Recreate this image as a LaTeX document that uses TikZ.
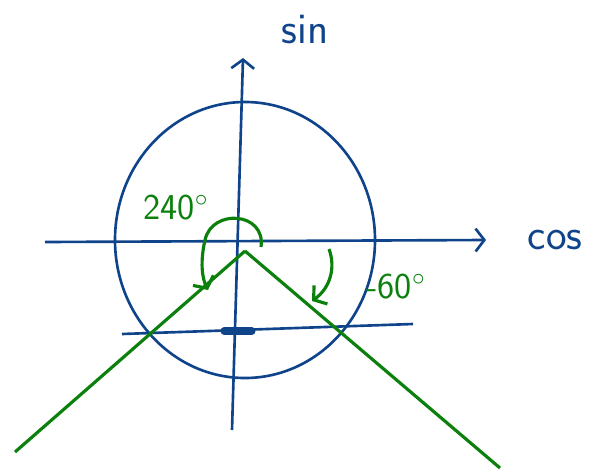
\documentclass[tikz,border=0pt]{standalone}
\usetikzlibrary{arrows.meta,positioning}
\usepackage{xcolor}
\definecolor{InkBlue}{RGB}{16,68,138}
\definecolor{InkGreen}{RGB}{12,128,12}

\begin{document}
\begin{tikzpicture}[
    x=0.02cm, y=-0.02cm,
    axis/.style={draw=InkBlue, line width=1.5pt, -{Straight Barb[length=5pt, width=13pt]}},
    blueline/.style={draw=InkBlue, line width=1.5pt},
    ray/.style={draw=InkGreen, line width=1.8pt},
    turn/.style={draw=InkGreen, line width=1.8pt, -{Straight Barb[length=5pt, width=13pt]}},
    lab/.style={font=\sffamily\Huge, text=InkBlue},
    anglab/.style={font=\sffamily\huge, text=InkGreen}
]
\useasboundingbox (0,0) rectangle (590,473);

%% ---- points ----
\coordinate (O)      at (245,251);
\coordinate (xleft)  at (45,242);
\coordinate (xright) at (486,240);
\coordinate (ybot)   at (232,430);
\coordinate (ytop)   at (243,58);
\coordinate (hleft)  at (122,334);
\coordinate (hright) at (413,324);
\coordinate (rayL)   at (15,452);
\coordinate (rayR)   at (500,468);

%% ---- circle and axes ----
\draw[blueline] (245,240) ellipse [x radius=130, y radius=138];
\draw[axis] (xleft) -- (xright);
\draw[axis] (ybot) -- (ytop);
\draw[blueline] (hleft) -- (hright);
\draw[InkBlue, line width=4pt, line cap=round] (224,331) -- (252,331);

%% ---- labels ----
\node[lab] (sinlab) at (305,30) {sin};
\node[lab] (coslab) at (555,240) {cos};

%% ---- green rays ----
\draw[ray] (O) -- (rayL);
\draw[ray] (O) -- (rayR);

%% ---- angle arcs ----
\draw[turn] (261,247) .. controls (266,212) and (212,208) .. (205,240)
            .. controls (200,262) and (202,278) .. (208,290);
\draw[turn] (329,249) .. controls (336,268) and (330,288) .. (312,301);

\node[anglab] (a240) at (176,208) {240$^{\circ}$};
\node[anglab] (a60)  at (396,287) {-60$^{\circ}$};

\end{tikzpicture}
\end{document}
